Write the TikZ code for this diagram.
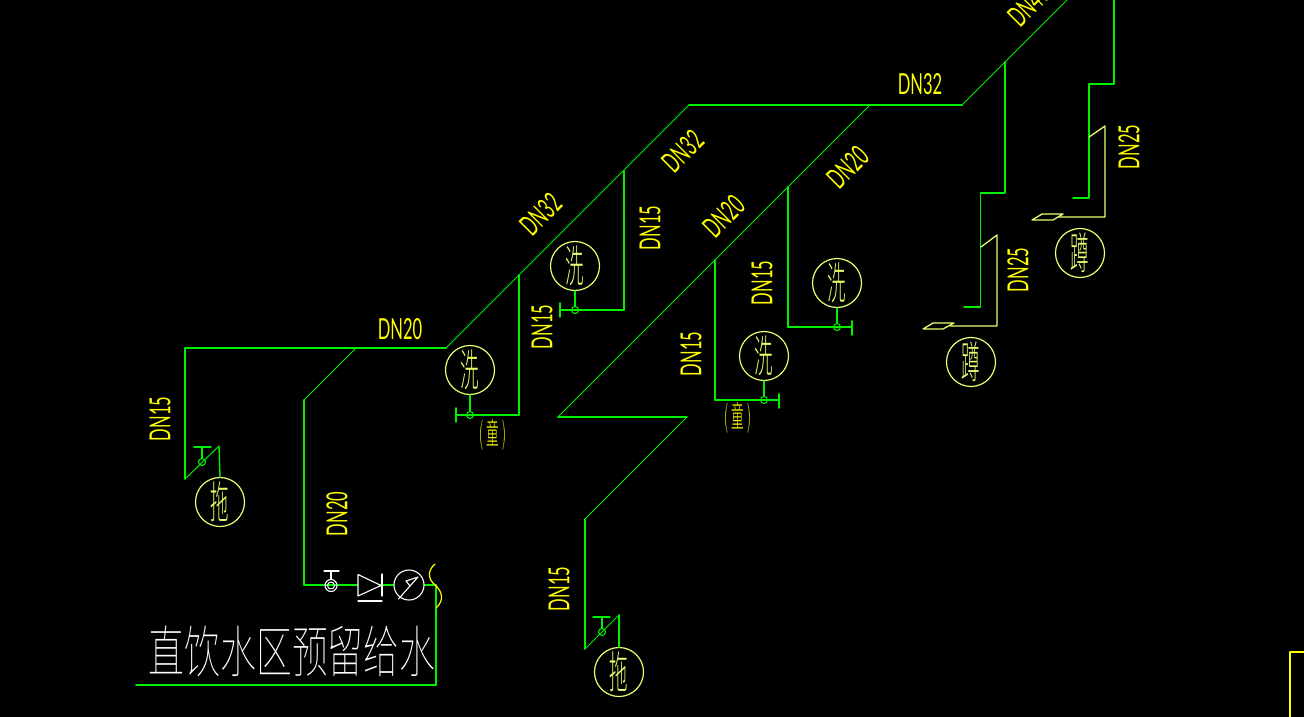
\documentclass[tikz,border=0pt]{standalone}
\usepackage{fontspec}
\newfontfamily\titlefont[FakeStretch=.64]{Noto Sans CJK SC Thin}
\newfontfamily\fixfont[FakeStretch=.42]{Noto Sans CJK SC Light}
\newfontfamily\dnfont[FakeStretch=.57]{Lato}
\definecolor{pipegreen}{RGB}{0,240,0}
\definecolor{paleyellow}{RGB}{230,255,110}
\definecolor{cadyellow}{RGB}{255,255,0}
\tikzset{
  pipe/.style={draw=pipegreen,line width=1.6pt},
  slant/.style={draw=pipegreen,line width=1pt},
  stem/.style={draw=pipegreen,line width=1.4pt},
  pale/.style={draw=paleyellow,line width=1.3pt},
  symbol/.style={draw=white,line width=1.1pt},
  fixture/.style={circle,draw=paleyellow,line width=1.2pt,minimum size=49pt,inner sep=0pt,text=paleyellow,font=\fixfont\fontsize{44}{44}\selectfont,text height=38pt,text depth=5pt},
  ring/.style={circle,draw=pipegreen,line width=1.1pt,minimum size=7pt,inner sep=0pt},
  dnlabel/.style={text=cadyellow,inner sep=0pt,font=\dnfont\fontsize{29}{29}\selectfont},
  childlabel/.style={text=cadyellow,inner sep=0pt,font=\fixfont\fontsize{30}{30}\selectfont}
}
\begin{document}
\begin{tikzpicture}[line cap=round,line join=round,x=1pt,y=-1pt]
        \fill[black] (0,0) rectangle (1304,717);
        \clip (0,0) rectangle (1304,717);

        % main run
        \coordinate (leftend) at (185,348);
        \coordinate (tee) at (356,348);
        \coordinate (bendA) at (446,348);
        \coordinate (bendB) at (689,105);
        \coordinate (teeB) at (870,105);
        \coordinate (bendC) at (962,105);
        \coordinate (topend) at (1068,-1);
        \draw [pipe] (leftend)-- (bendA);
        \draw [slant] (bendA)-- (bendB);
        \draw [pipe] (bendB)-- (bendC);
        \draw [slant] (bendC)-- (topend);

        % fixtures
        \node [fixture] (mopA) at (220,502) {拖};
        \node [fixture] (mopB) at (619,672) {拖};
        \node [fixture] (washA) at (470,370) {洗};
        \node [fixture] (washB) at (575,266) {洗};
        \node [fixture] (washC) at (764,356) {洗};
        \node [fixture] (washD) at (837,283) {洗};
        \node [fixture] (squatA) at (971,362) {蹲};
        \node [fixture] (squatB) at (1080,253) {蹲};

        % left mop sink
        \coordinate (mopAlow) at (185,479);
        \coordinate (mopAhigh) at (219,446);
        \node [ring] (ringA) at (202,462) {};
        \coordinate (barAl) at (194,447);
        \coordinate (barAr) at (211,447);
        \coordinate (barAm) at (202,447);
        \draw [pipe] (leftend)-- (mopAlow);
        \draw [slant] (mopAlow)-- (mopAhigh);
        \draw [stem] (mopAhigh)-- (mopA.north);
        \draw [stem] (barAl)-- (barAr);
        \draw [stem] (barAm)-- (ringA);

        % supply with valve and meter
        \coordinate (supA) at (304,400);
        \coordinate (supB) at (304,585);
        \coordinate (supC) at (436,585);
        \coordinate (supD) at (436,685);
        \coordinate (supE) at (136,685);
        \draw [slant] (tee)-- (supA);
        \draw [pipe] (supA)-- (supB);
        \draw [pipe] (supB)-- (supC);
        \draw [pipe] (supC)-- (supD);
        \draw [pipe] (supD)-- (supE);
        \node [circle,draw=white,line width=1.1pt,minimum size=12pt,inner sep=0pt] (valve) at (331,585.5) {};
        \node [circle,draw=white,line width=1pt,minimum size=7pt,inner sep=0pt] (valvein) at (331,585.5) {};
        \draw [symbol] (324,571)-- (339,571);
        \draw [symbol] (331,571)-- (valve);
        \draw [symbol,fill=black] (358,574.5)-- (381,585.5)-- (358,596)-- cycle;
        \draw [symbol] (382,574)-- (382,596);
        \draw [symbol] (358,601)-- (382,601);
        \fill [white] (375,599.5) rectangle (380,601);
        \node [circle,draw=white,fill=black,line width=1.1pt,minimum size=30pt,inner sep=0pt] (meter) at (409,585) {};
        \draw [symbol] (398.5,599)-- (418,577)-- (406,581)-- (410,586);
        \draw [draw=cadyellow,line width=1.2pt] (435,564) .. controls (427,571) and (428,579) .. (435,585) .. controls (443,592) and (444,601) .. (436,608);
        \node [text=white,inner sep=0pt,font=\titlefont\fontsize{56}{56}\selectfont] (title) at (292,651) {直饮水区预留给水};

        % first riser group
        \coordinate (riseA) at (519,275);
        \coordinate (riseAb) at (519,415);
        \coordinate (riseAe) at (456,415);
        \node [ring] (ringB) at (470,415) {};
        \draw [pipe] (riseA)-- (riseAb);
        \draw [pipe] (riseAb)-- (riseAe);
        \draw [pipe] (456,408)-- (456,422);
        \draw [stem] (washA.south)-- (ringB);
        \coordinate (riseB) at (624,171);
        \coordinate (riseBb) at (624,310);
        \coordinate (riseBe) at (560,310);
        \node [ring] (ringC) at (575,310) {};
        \draw [pipe] (riseB)-- (riseBb);
        \draw [pipe] (riseBb)-- (riseBe);
        \draw [pipe] (560,303)-- (560,317);
        \draw [stem] (washB.south)-- (ringC);

        % second run
        \coordinate (zigA) at (558,417);
        \coordinate (zigB) at (687,417);
        \coordinate (zigC) at (585,519);
        \coordinate (mopBlow) at (585,649);
        \coordinate (mopBhigh) at (619,615);
        \node [ring] (ringD) at (602,632) {};
        \coordinate (barBl) at (593,617);
        \coordinate (barBr) at (610,617);
        \coordinate (barBm) at (602,617);
        \draw [slant] (teeB)-- (zigA);
        \draw [pipe] (zigA)-- (zigB);
        \draw [slant] (zigB)-- (zigC);
        \draw [pipe] (zigC)-- (mopBlow);
        \draw [slant] (mopBlow)-- (mopBhigh);
        \draw [stem] (mopBhigh)-- (mopB.north);
        \draw [stem] (barBl)-- (barBr);
        \draw [stem] (barBm)-- (ringD);
        \coordinate (riseC) at (715,260);
        \coordinate (riseCb) at (715,400);
        \coordinate (riseCe) at (779,400);
        \node [ring] (ringE) at (764,400) {};
        \draw [pipe] (riseC)-- (riseCb);
        \draw [pipe] (riseCb)-- (riseCe);
        \draw [pipe] (779,394)-- (779,408);
        \draw [stem] (washC.south)-- (ringE);
        \coordinate (riseD) at (788,187);
        \coordinate (riseDb) at (788,327);
        \coordinate (riseDe) at (852,327);
        \node [ring] (ringF) at (837,327) {};
        \draw [pipe] (riseD)-- (riseDb);
        \draw [pipe] (riseDb)-- (riseDe);
        \draw [pipe] (852,321)-- (852,335);
        \draw [stem] (washD.south)-- (ringF);

        % squat pans
        \coordinate (stepA) at (1005,62);
        \coordinate (stepAb) at (1005,193);
        \coordinate (stepAc) at (980.5,193);
        \coordinate (stepAd) at (980.5,307);
        \coordinate (stepAe) at (964,307);
        \draw [pipe] (stepA)-- (stepAb)-- (stepAc)-- (stepAd)-- (stepAe);
        \draw [pale] (981,247)-- (997,235)-- (997,326)-- (950,326);
        \draw [pale] (923,329)-- (933,323)-- (954,323)-- (943,329)-- cycle;
        \coordinate (stepB) at (1114,-1);
        \coordinate (stepBb) at (1114,84);
        \coordinate (stepBc) at (1089,84);
        \coordinate (stepBd) at (1089,198);
        \coordinate (stepBe) at (1073,198);
        \draw [pipe] (stepB)-- (stepBb)-- (stepBc)-- (stepBd)-- (stepBe);
        \draw [pale] (1089,137)-- (1105,126)-- (1105,217)-- (1059,217);
        \draw [pale] (1032,220)-- (1042,214)-- (1063,214)-- (1053,220)-- cycle;

        % sizes
        \node [dnlabel] (dnA) at (400,329) {DN20};
        \node [dnlabel] (dnB) at (920,84) {DN32};
        \node [dnlabel,rotate=45] (dnC) at (541,214) {DN32};
        \node [dnlabel,rotate=45] (dnD) at (683,151) {DN32};
        \node [dnlabel,rotate=45] (dnE) at (724,216) {DN20};
        \node [dnlabel,rotate=45] (dnF) at (848,167) {DN20};
        \node [dnlabel,rotate=45] (dnG) at (1029,5) {DN40};
        \node [dnlabel,rotate=90] (dnH) at (160,419) {DN15};
        \node [dnlabel,rotate=90] (dnI) at (337,514) {DN20};
        \node [dnlabel,rotate=90] (dnJ) at (542,327) {DN15};
        \node [dnlabel,rotate=90] (dnK) at (650,228) {DN15};
        \node [dnlabel,rotate=90] (dnL) at (762,283) {DN15};
        \node [dnlabel,rotate=90] (dnM) at (691,354) {DN15};
        \node [dnlabel,rotate=90] (dnN) at (559,589) {DN15};
        \node [dnlabel,rotate=90] (dnO) at (1018,270) {DN25};
        \node [dnlabel,rotate=90] (dnP) at (1129,147) {DN25};
        \node [childlabel] (childA) at (493,435) {(\kern3pt 童\kern3pt)};
        \node [childlabel] (childB) at (738,418) {(\kern3pt 童\kern3pt)};

        % sheet frame corner
        \draw [draw=cadyellow,line width=1.6pt] (1290,718)-- (1290,652)-- (1305,652);
\end{tikzpicture}
\end{document}
